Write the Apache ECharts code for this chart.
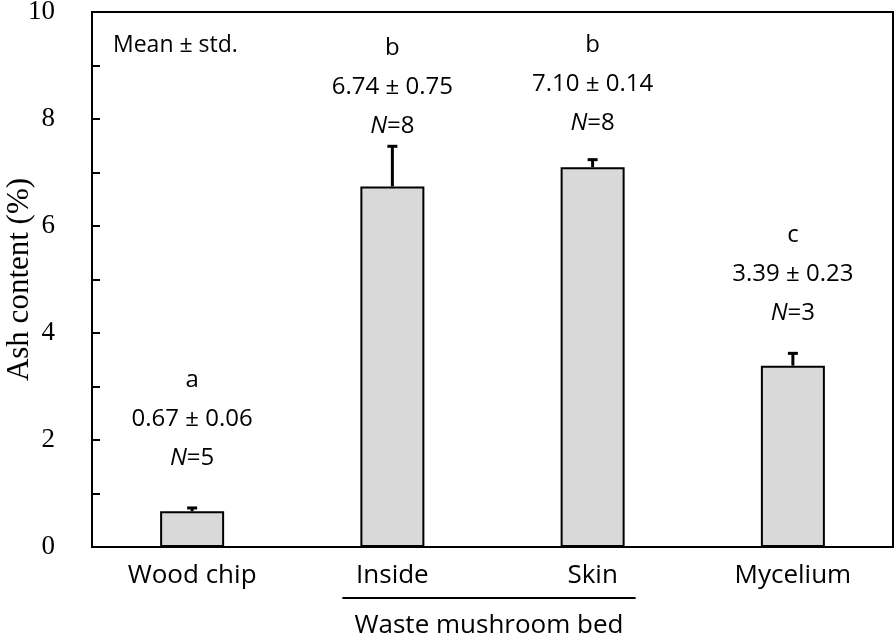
<!DOCTYPE html>
<html>
<head>
<meta charset="utf-8">
<script src="https://cdn.jsdelivr.net/npm/echarts@6/dist/echarts.min.js"></script>
<style>
html,body{margin:0;padding:0;background:#fff;}
#c{width:896px;height:640px;}
</style>
</head>
<body>
<div id="c"></div>
<script>
// ---- data ----
var categories = ['Wood chip', 'Inside', 'Skin', 'Mycelium'];
var means = [0.67, 6.74, 7.10, 3.39];
var stds = [0.06, 0.75, 0.14, 0.23];
var counts = [5, 8, 8, 3];
var letters = ['a', 'b', 'b', 'c'];
var yTicks = [0, 2, 4, 6, 8, 10];

// ---- layout (pixels) ----
var noteGap = [50, 20, 37, 40];   // gap from error-bar top to "N=" line
var lineStep = 39;
var sans = '"Open Sans", Lato, sans-serif';
var serif = '"Liberation Serif", "DejaVu Serif", serif';

var chart = echarts.init(document.getElementById('c'), null, {renderer: 'canvas'});

var errData = categories.map(function (c, i) { return [i, means[i], stds[i]]; });

chart.setOption({
  animation: false,
  backgroundColor: '#fff',
  grid: {left: 92, right: 3, top: 12, bottom: 93, containLabel: false, outerBoundsMode: 'none',
         show: true, borderColor: '#000', borderWidth: 2, backgroundColor: 'transparent'},
  xAxis: {
    type: 'category',
    data: categories,
    axisLine: {lineStyle: {color: '#000', width: 2}},
    axisTick: {show: false},
    axisLabel: {color: '#000', fontFamily: sans, fontSize: 26, margin: 16}
  },
  yAxis: {
    type: 'value',
    min: 0, max: 10, interval: 1,
    name: 'Ash content (%)',
    nameLocation: 'middle',
    nameGap: 57,
    nameMoveOverlap: false,
    nameTextStyle: {color: '#000', fontFamily: serif, fontSize: 31},
    axisLine: {show: true, lineStyle: {color: '#000', width: 2}},
    axisTick: {show: true, inside: true, length: 8, lineStyle: {color: '#000', width: 2}},
    splitLine: {show: false},
    axisLabel: {
      color: '#000', fontFamily: serif, fontSize: 27, margin: 37,
      formatter: function (v) { return yTicks.indexOf(v) >= 0 ? String(v) : ''; }
    }
  },
  series: [
    {
      type: 'bar',
      data: means,
      barWidth: 64,
      itemStyle: {color: '#d9d9d9', borderColor: '#000', borderWidth: 2}
    },
    {
      type: 'custom',
      data: errData,
      z: 5,
      renderItem: function (params, api) {
        var i = api.value(0), m = api.value(1), s = api.value(2);
        var base = api.coord([i, m]);
        var top = api.coord([i, m + s]);
        var x = base[0];
        var nY = top[1] - noteGap[i];
        var txt = function (y, text, rich) {
          return {
            type: 'text',
            style: {
              x: x, y: y, text: text, fill: '#000',
              font: '24px ' + sans,
              align: 'center', verticalAlign: 'middle',
              rich: rich
            }
          };
        };
        return {
          type: 'group',
          children: [
            {type: 'line', shape: {x1: x, y1: base[1], x2: x, y2: top[1]}, style: {stroke: '#000', lineWidth: 3}},
            {type: 'line', shape: {x1: x - 5, y1: top[1], x2: x + 5, y2: top[1]}, style: {stroke: '#000', lineWidth: 3}},
            txt(nY, '{i|N}{r|=' + counts[i] + '}', {
              i: {fontFamily: sans, fontSize: 24, fontStyle: 'italic', fill: '#000'},
              r: {fontFamily: sans, fontSize: 24, fill: '#000'}
            }),
            txt(nY - lineStep, means[i].toFixed(2) + ' \u00B1 ' + stds[i].toFixed(2)),
            txt(nY - 2 * lineStep, letters[i])
          ]
        };
      }
    }
  ]
});

// group caption under "Inside" and "Skin"
var pIn = chart.convertToPixel({xAxisIndex: 0}, 'Inside');
var pSk = chart.convertToPixel({xAxisIndex: 0}, 'Skin');
var yBase = chart.convertToPixel({yAxisIndex: 0}, 0);
chart.setOption({
  graphic: [
    {type: 'line', shape: {x1: pIn - 50, y1: yBase + 51, x2: pSk + 43, y2: yBase + 51}, style: {stroke: '#000', lineWidth: 2}},
    {type: 'text', x: (pIn - 50 + pSk + 43) / 2, y: yBase + 79, style: {text: 'Waste mushroom bed', font: '26px ' + sans, fill: '#000', align: 'center', verticalAlign: 'middle'}},
    {type: 'text', x: 113, y: 45, style: {text: 'Mean \u00B1 std.', font: '23px ' + sans, fill: '#000', align: 'left', verticalAlign: 'middle'}}
  ]
});
</script>
</body>
</html>
